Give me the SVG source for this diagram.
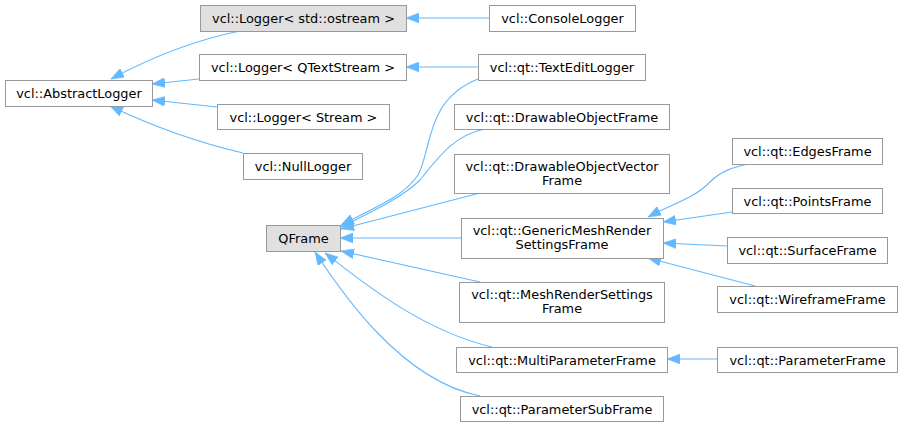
<svg xmlns="http://www.w3.org/2000/svg" width="903" height="427" viewBox="0 0 903 427">
<style>
.n rect{fill:#ffffff;stroke:#999999;stroke-width:1}
.g rect{fill:#e0e0e0}
text{font-family:"DejaVu Sans","Liberation Sans",sans-serif;font-size:12.9px;fill:#000000;text-anchor:middle}
.e path{fill:none;stroke:#63b8ff;stroke-width:1.1;marker-start:url(#ah)}
</style>
<defs>
<marker id="ah" markerUnits="userSpaceOnUse" viewBox="0 0 13 10" markerWidth="13" markerHeight="10" refX="13" refY="5" orient="auto-start-reverse">
<path d="M0,0 L13,5 L0,10 z" fill="#63b8ff" stroke="#63b8ff" stroke-width="0.5"/>
</marker>
</defs>
<g id="connectors" class="e">
<path d="M406,18 L489,18"/>
<path d="M406,67 L478,67"/>
<path d="M111,79 C150,58 195,40 240,31"/>
<path d="M152,84 L199,79"/>
<path d="M152,100 L217,107"/>
<path d="M110,106 C150,125 200,143 243,153"/>
<path d="M341,225 C380,205 405,195 418,175 C432,150 425,100 478,79"/>
<path d="M341,227 C380,208 405,195 420,180 C440,155 455,135 485,129"/>
<path d="M341,229 L480,193"/>
<path d="M340,238 L461,238"/>
<path d="M341,251 L480,282"/>
<path d="M325,253 C360,280 420,330 492,347"/>
<path d="M315,252 C340,290 400,380 480,396"/>
<path d="M648,217 C670,205 695,198 710,182 C722,170 735,167 748,164"/>
<path d="M663,222 L732,212"/>
<path d="M663,243 L727,246"/>
<path d="M648,258 L755,286"/>
<path d="M667,359 L717,359"/>
</g>
<g id="AbstractLogger" class="n"><rect x="5.5" y="80.5" width="147" height="26"/><text x="79" y="98">vcl::AbstractLogger</text></g>
<g id="LoggerOstream" class="n g"><rect x="200.5" y="5.5" width="206" height="26"/><text x="303.5" y="23">vcl::Logger&lt; std::ostream &gt;</text></g>
<g id="LoggerQTextStream" class="n"><rect x="199.5" y="54.5" width="207" height="26"/><text x="303" y="72">vcl::Logger&lt; QTextStream &gt;</text></g>
<g id="LoggerStream" class="n"><rect x="217.5" y="104.5" width="172" height="25"/><text x="303.5" y="121.5">vcl::Logger&lt; Stream &gt;</text></g>
<g id="NullLogger" class="n"><rect x="243.5" y="153.5" width="119" height="26"/><text x="303" y="171">vcl::NullLogger</text></g>
<g id="ConsoleLogger" class="n"><rect x="489.5" y="5.5" width="146" height="26"/><text x="562.5" y="23">vcl::ConsoleLogger</text></g>
<g id="TextEditLogger" class="n"><rect x="478.5" y="54.5" width="167" height="26"/><text x="562" y="72">vcl::qt::TextEditLogger</text></g>
<g id="QFrame" class="n g"><rect x="266.5" y="225.5" width="74" height="26"/><text x="303.5" y="243">QFrame</text></g>
<g id="DrawableObjectFrame" class="n"><rect x="454.5" y="104.5" width="215" height="25"/><text x="562" y="121.5">vcl::qt::DrawableObjectFrame</text></g>
<g id="DrawableObjectVectorFrame" class="n"><rect x="454.5" y="154.5" width="215" height="39"/><text x="562" y="170.5">vcl::qt::DrawableObjectVector</text><text x="562" y="184.5">Frame</text></g>
<g id="GenericMeshRenderSettingsFrame" class="n"><rect x="461.5" y="218.5" width="202" height="40"/><text x="562" y="234.5">vcl::qt::GenericMeshRender</text><text x="562" y="248.5">SettingsFrame</text></g>
<g id="MeshRenderSettingsFrame" class="n"><rect x="459.5" y="282.5" width="205" height="40"/><text x="562" y="298.5">vcl::qt::MeshRenderSettings</text><text x="562" y="312.5">Frame</text></g>
<g id="MultiParameterFrame" class="n"><rect x="456.5" y="347.5" width="211" height="25"/><text x="562" y="364.5">vcl::qt::MultiParameterFrame</text></g>
<g id="ParameterSubFrame" class="n"><rect x="460.5" y="396.5" width="203" height="25"/><text x="562" y="413.5">vcl::qt::ParameterSubFrame</text></g>
<g id="EdgesFrame" class="n"><rect x="732.5" y="138.5" width="150" height="26"/><text x="807.5" y="156">vcl::qt::EdgesFrame</text></g>
<g id="PointsFrame" class="n"><rect x="732.5" y="188.5" width="150" height="25"/><text x="807.5" y="205.5">vcl::qt::PointsFrame</text></g>
<g id="SurfaceFrame" class="n"><rect x="727.5" y="237.5" width="160" height="26"/><text x="807.5" y="255">vcl::qt::SurfaceFrame</text></g>
<g id="WireframeFrame" class="n"><rect x="717.5" y="286.5" width="180" height="26"/><text x="807.5" y="304">vcl::qt::WireframeFrame</text></g>
<g id="ParameterFrame" class="n"><rect x="717.5" y="347.5" width="180" height="25"/><text x="807.5" y="364.5">vcl::qt::ParameterFrame</text></g>
</svg>
